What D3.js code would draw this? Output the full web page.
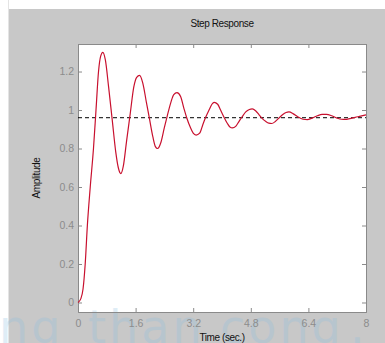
<!DOCTYPE html>
<html><head><meta charset="utf-8">
<script src="https://cdn.jsdelivr.net/npm/d3@7/dist/d3.min.js"></script>
<style>body{margin:0;background:#fff;}svg{display:block;font-family:Arial,"Liberation Sans",sans-serif;}</style>
</head><body>
<script>
const times = [0,0.08,0.14,0.2,0.26,0.34,0.43,0.5,0.57,0.63,0.69,0.76,0.85,0.95,1.05,1.12,1.19,1.26,1.35,1.45,1.55,1.63,1.71,1.8,1.9,1.98,2.08,2.15,2.21,2.3,2.4,2.48,2.58,2.66,2.75,2.85,2.94,3.02,3.12,3.2,3.28,3.38,3.46,3.54,3.64,3.72,3.78,3.88,3.96,4.05,4.15,4.22,4.29,4.38,4.47,4.56,4.66,4.76,4.84,4.94,5.03,5.12,5.22,5.3,5.38,5.48,5.58,5.68,5.78,5.86,5.98,6.1,6.25,6.37,6.5,6.65,6.78,6.9,7.05,7.2,7.32,7.42,7.55,7.7,7.85,8];
const values = [0,0.02,0.07,0.2,0.4,0.6,0.8,1.0,1.2,1.28,1.30,1.26,1.12,0.95,0.78,0.7,0.67,0.71,0.84,0.98,1.12,1.17,1.18,1.14,1.04,0.96,0.86,0.81,0.80,0.83,0.91,0.97,1.04,1.08,1.09,1.07,1.01,0.96,0.91,0.88,0.87,0.88,0.92,0.96,1.0,1.03,1.04,1.03,1.0,0.965,0.93,0.912,0.907,0.915,0.94,0.965,0.99,1.003,1.006,0.995,0.975,0.955,0.94,0.932,0.93,0.94,0.958,0.975,0.987,0.99,0.98,0.965,0.952,0.95,0.958,0.97,0.977,0.977,0.97,0.958,0.952,0.951,0.955,0.962,0.968,0.975];
const finalValue = 0.96;
const xTicks = [0,1.6,3.2,4.8,6.4,8];
const xTickLabels = ["0","1.6","3.2","4.8","6.4","8"];
const yTicks = [0,0.2,0.4,0.6,0.8,1,1.2];
const yTickLabels = ["0","0.2","0.4","0.6","0.8","1","1.2"];
const title = "Step Response";
const xLabel = "Time (sec.)";
const yLabel = "Amplitude";
const watermark = [["ng",-1],["than",88],["cong",220],[".",350]];

const W=385,H=343;
const svg=d3.select("body").append("svg").attr("width",W).attr("height",H);
svg.append("rect").attr("x",9).attr("y",9).attr("width",W-9).attr("height",H-9).attr("fill","#c8c8c8");
svg.append("line").attr("x1",8.5).attr("x2",8.5).attr("y1",0).attr("y2",H).attr("stroke","#e4e4e4");

const L=78,R=366,T=44,B=312;
const x=d3.scaleLinear().domain([0,8]).range([L,R]);
const y=d3.scaleLinear().domain([-0.0494,1.343]).range([B,T]);

svg.append("rect").attr("x",L).attr("y",T).attr("width",R-L).attr("height",B-T).attr("fill","#fff");

// watermark
watermark.forEach(([t,px])=>{
  svg.append("text").attr("x",px).attr("y",343).attr("font-size",46).attr("font-family","'DejaVu Sans',sans-serif")
    .attr("fill","#8fbfe0").attr("opacity",0.28).attr("letter-spacing",3).text(t);
});

const axisColor="#8a8a8a";
const gx=svg.append("g").attr("transform",`translate(0,${B})`)
  .call(d3.axisBottom(x).tickValues(xTicks).tickFormat((d,i)=>xTickLabels[i]).tickSize(-4).tickPadding(8));
const gxt=svg.append("g").attr("transform",`translate(0,${T})`)
  .call(d3.axisTop(x).tickValues(xTicks).tickFormat("").tickSize(-4));
const gy=svg.append("g").attr("transform",`translate(${L},0)`)
  .call(d3.axisLeft(y).tickValues(yTicks).tickFormat((d,i)=>yTickLabels[i]).tickSize(-4).tickPadding(4));
const gyr=svg.append("g").attr("transform",`translate(${R},0)`)
  .call(d3.axisRight(y).tickValues(yTicks).tickFormat("").tickSize(-4));
[gx,gxt,gy,gyr].forEach(g=>{
  g.select(".domain").attr("stroke",axisColor);
  g.selectAll(".tick line").attr("stroke",axisColor);
  g.selectAll(".tick text").attr("fill","#8c8c8c").attr("font-size",10.5).attr("font-family","Arial,'Liberation Sans',sans-serif");
});

// final value dashed
svg.append("line").attr("x1",L).attr("x2",R).attr("y1",y(finalValue)).attr("y2",y(finalValue))
  .attr("stroke","#000").attr("stroke-width",1).attr("stroke-dasharray","4,3");

const data=times.map((t,i)=>[t,values[i]]);
svg.append("path").datum(data).attr("fill","none").attr("stroke","#c8102e").attr("stroke-width",1.2)
  .attr("d",d3.line().x(d=>x(d[0])).y(d=>y(d[1])).curve(d3.curveMonotoneX));

svg.append("text").attr("x",222).attr("y",27).attr("text-anchor","middle").attr("font-size",10).attr("fill","#111").attr("letter-spacing",-0.4).text(title);
svg.append("text").attr("x",(L+R)/2).attr("y",341).attr("text-anchor","middle").attr("font-size",10).attr("fill","#111").attr("letter-spacing",-0.4).text(xLabel);
svg.append("text").attr("transform",`translate(40,${(T+B)/2}) rotate(-90)`).attr("text-anchor","middle").attr("font-size",10).attr("fill","#111").attr("letter-spacing",-0.4).text(yLabel);
</script>
</body></html>
